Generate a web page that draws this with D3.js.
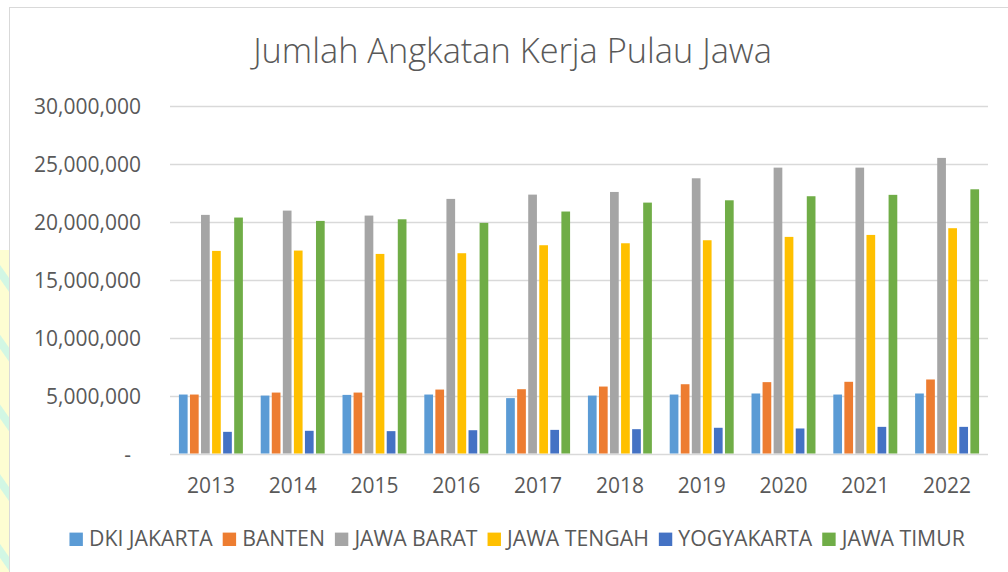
<!DOCTYPE html>
<html>
<head>
<meta charset="utf-8">
<script src="https://cdn.jsdelivr.net/npm/d3@7"></script>
<style>
  body { margin: 0; background: #fff; }
  svg text { font-family: "Open Sans", "Noto Sans", sans-serif; fill: #595959; }
</style>
</head>
<body>
<svg id="chart" width="1008" height="572"></svg>
<script>
var years = ["2013","2014","2015","2016","2017","2018","2019","2020","2021","2022"]
var provinces = ["DKI JAKARTA","BANTEN","JAWA BARAT","JAWA TENGAH","YOGYAKARTA","JAWA TIMUR"]
var colors = ["#5B9BD5","#ED7D31","#A5A5A5","#FFC000","#4472C4","#70AD47"]
var yTicks = [0,5000000,10000000,15000000,20000000,25000000,30000000]

var dkiJakarta = [5090000,5000000,5060000,5090000,4780000,5000000,5090000,5180000,5090000,5180000]
var banten     = [5090000,5260000,5260000,5520000,5550000,5780000,5980000,6160000,6190000,6390000]
var jawaBarat  = [20600000,20970000,20540000,21980000,22350000,22580000,23760000,24680000,24680000,25520000]
var jawaTengah = [17490000,17520000,17230000,17290000,17980000,18150000,18410000,18700000,18870000,19450000]
var yogyakarta = [1870000,1960000,1930000,2010000,2040000,2100000,2220000,2160000,2300000,2300000]
var jawaTimur  = [20370000,20080000,20220000,19910000,20890000,21660000,21860000,22210000,22330000,22810000]

var seriesValues = [dkiJakarta, banten, jawaBarat, jawaTengah, yogyakarta, jawaTimur]

svg = d3.select("#chart")

// page background strip on the left (document watermark)
var defs = svg.append("defs")
var pat = defs.append("pattern")
    .attr("id","stripes")
    .attr("width",40).attr("height",40)
    .attr("patternUnits","userSpaceOnUse")
    .attr("patternTransform","rotate(-35)")
pat.append("rect").attr("width",40).attr("height",40).attr("fill","#fdfdd2")
pat.append("rect").attr("width",8).attr("height",40).attr("fill","#d2f7e4")
svg.append("rect")
    .attr("x",0).attr("y",250).attr("width",9).attr("height",322)
    .attr("fill","url(#stripes)")

// chart frame
svg.append("rect")
    .attr("x",9.5).attr("y",7.5)
    .attr("width",1010).attr("height",580)
    .attr("fill","#fff")
    .attr("stroke","#d9d9d9")

var plotLeft = 170, plotRight = 988, plotTop = 106, plotBottom = 453.5

var y = d3.scaleLinear()
    .domain([0,30000000])
    .range([plotBottom, plotTop])

var x0 = d3.scaleBand()
    .domain(years)
    .range([plotLeft, plotRight])
    .paddingInner(0.218)
    .paddingOuter(0.109)

var x1 = d3.scaleBand()
    .domain(provinces)
    .range([0, x0.bandwidth()])
    .paddingInner(0.213)

// gridlines
svg.append("g")
    .attr("class","grid")
    .selectAll("line")
    .data(yTicks).enter().append("line")
        .attr("x1",plotLeft).attr("x2",plotRight)
        .attr("y1",function(d){return Math.round(y(d)) + 0.5;})
        .attr("y2",function(d){return Math.round(y(d)) + 0.5;})
        .attr("stroke","#d9d9d9")
        .attr("stroke-width",1.3)

// y axis labels
var fmt = d3.format(",")
var yAxis = d3.axisLeft(y)
    .tickValues(yTicks)
    .tickSize(0)
    .tickPadding(0)
    .tickFormat(function(d){return d === 0 ? "-" : fmt(d);})
var yG = svg.append("g")
    .attr("class","axis y")
    .attr("transform","translate(141,0)")
    .call(yAxis)
yG.select(".domain").remove()
yG.selectAll("text")
    .style("font-size","21px")
    .attr("dy","0.36em")
    .attr("x",function(d){return d === 0 ? -10 : 0;})

// x axis labels
var xAxis = d3.axisBottom(x0).tickSize(0).tickPadding(0)
var xG = svg.append("g")
    .attr("class","axis x")
    .attr("transform","translate(0,493)")
    .call(xAxis)
xG.select(".domain").remove()
xG.selectAll("text")
    .style("font-size","21px")
    .attr("dy","0")
    .attr("y",0)

// bars
var groups = svg.append("g").attr("class","bars")
    .selectAll("g")
    .data(years).enter().append("g")
        .attr("transform",function(d){return "translate(" + x0(d) + ",0)";})

groups.selectAll("rect")
    .data(function(d,i){
        return provinces.map(function(p,j){return {prov:p, value:seriesValues[j][i], color:colors[j]};})
    })
    .enter().append("rect")
        .attr("x",function(d){return x1(d.prov);})
        .attr("width",x1.bandwidth())
        .attr("y",function(d){return y(d.value);})
        .attr("height",function(d){return y(0) - y(d.value);})
        .attr("fill",function(d){return d.color;})

// title
var title = svg.append("text")
    .attr("x",512.5).attr("y",63)
    .attr("text-anchor","middle")
    .style("font-size","30px")
    .style("font-weight","300")
    .text("Jumlah Angkatan Kerja Pulau Jawa")
var tw = title.node().getComputedTextLength()
title.style("font-size",(30*519/tw) + "px")

// legend
var legend = svg.append("g").attr("class","legend")
var items = legend.selectAll("g")
    .data(provinces).enter().append("g")
items.append("rect")
    .attr("width",13.4).attr("height",13.4)
    .attr("y",-13.4)
    .attr("fill",function(d,i){return colors[i];})
items.append("text")
    .attr("x",19.5)
    .style("font-size","19px")
    .text(function(d){return d;})

var gap = 10
function measure(){
    var w = []
    items.each(function(){
        w.push(19.5 + d3.select(this).select("text").node().getComputedTextLength())
    })
    return w
}
var widths = measure()
var textTotal = d3.sum(widths) - 19.5*widths.length
var targetW = 965 - 69.3
var fixedW = 19.5*widths.length + gap*(widths.length-1)
items.select("text").style("font-size",(19*(targetW - fixedW)/textTotal) + "px")
widths = measure()
var total = d3.sum(widths) + gap*(widths.length-1)
var lx = 69.3 + (targetW - total)/2
items.attr("transform",function(d,i){
    var pos = lx
    lx += widths[i] + gap
    return "translate(" + pos + ",546)"
})
</script>
</body>
</html>
